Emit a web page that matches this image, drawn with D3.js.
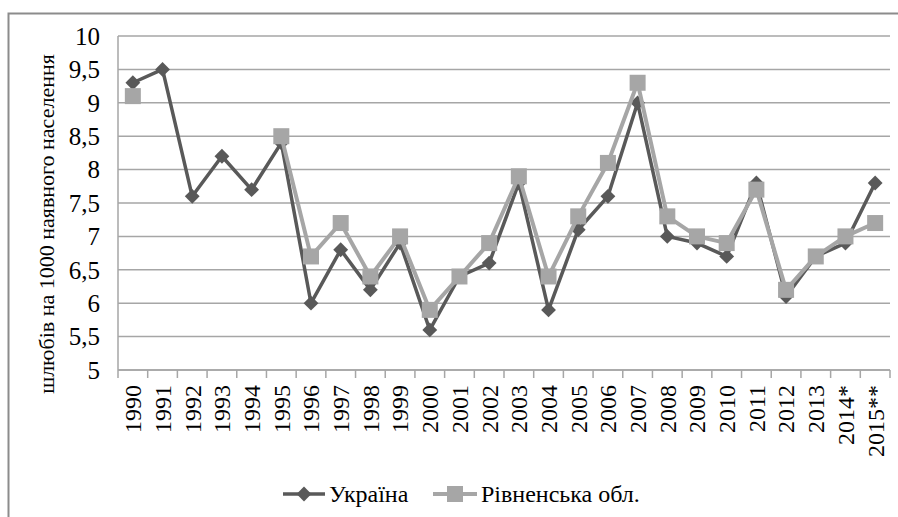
<!DOCTYPE html>
<html>
<head>
<meta charset="utf-8">
<script src="https://cdn.jsdelivr.net/npm/d3@7"></script>
<style>
  body { margin: 0; background: #fff; }
  .serif { font-family: "Liberation Serif", serif; }
</style>
</head>
<body>
<div class="chart"></div>
<script>
var years = ["1990","1991","1992","1993","1994","1995","1996","1997","1998","1999","2000",
  "2001","2002","2003","2004","2005","2006","2007","2008","2009","2010","2011","2012","2013","2014*","2015**"];
var ukraine = [9.3,9.5,7.6,8.2,7.7,8.4,6.0,6.8,6.2,6.9,5.6,6.4,6.6,7.8,5.9,7.1,7.6,9.0,7.0,6.9,6.7,7.8,6.1,6.7,6.9,7.8];
var rivne = [9.1,null,null,null,null,8.5,6.7,7.2,6.4,7.0,5.9,6.4,6.9,7.9,6.4,7.3,8.1,9.3,7.3,7.0,6.9,7.7,6.2,6.7,7.0,7.2];
var yTicks = [5,5.5,6,6.5,7,7.5,8,8.5,9,9.5,10];

var svgWidth = 898;
var svgHeight = 517;
var margin = { top: 36, right: 8, bottom: 147, left: 118 };
var width = svgWidth - margin.left - margin.right;
var height = svgHeight - margin.top - margin.bottom;

var svg = d3.select(".chart")
  .append("svg")
  .attr("width", svgWidth)
  .attr("height", svgHeight);

// outer chart border (top and left visible)
svg.append("path")
  .attr("d", "M8.5,517 L8.5,13.5 L898,13.5")
  .attr("fill", "none")
  .attr("stroke", "#8c8c8c")
  .attr("stroke-width", 2);

var chartGroup = svg.append("g")
  .attr("transform", `translate(${margin.left}, ${margin.top})`);

var xScale = d3.scaleBand()
  .domain(years)
  .range([0, width]);

var yScale = d3.scaleLinear()
  .domain([5, 10])
  .range([height, 0]);

// gridlines
chartGroup.selectAll(".grid")
  .data(yTicks)
  .enter()
  .append("line")
  .attr("x1", 0)
  .attr("x2", width)
  .attr("y1", d => yScale(d))
  .attr("y2", d => yScale(d))
  .attr("stroke", "#a6a6a6")
  .attr("stroke-width", 1.5);

// y axis labels
chartGroup.append("line")
  .attr("x1", 0).attr("x2", 0).attr("y1", 0).attr("y2", height)
  .attr("stroke", "#a6a6a6").attr("stroke-width", 1.5);
chartGroup.selectAll(".ylbl")
  .data(yTicks)
  .enter()
  .append("text")
  .attr("class", "serif")
  .attr("x", -18)
  .attr("y", d => yScale(d))
  .attr("dy", "0.35em")
  .attr("text-anchor", "end")
  .style("font-size", "25px")
  .text(d => String(d).replace(".", ","));

// x axis: ticks between categories
var xAxisG = chartGroup.append("g")
  .attr("transform", `translate(0, ${height})`);
xAxisG.append("line")
  .attr("x1", 0).attr("x2", width)
  .attr("stroke", "#a6a6a6").attr("stroke-width", 1.5);
xAxisG.selectAll(".tick")
  .data(years.concat(["end"]))
  .enter()
  .append("line")
  .attr("x1", (d, i) => i * xScale.step())
  .attr("x2", (d, i) => i * xScale.step())
  .attr("y1", 0).attr("y2", 8)
  .attr("stroke", "#a6a6a6").attr("stroke-width", 1.5);
xAxisG.selectAll(".lbl")
  .data(years)
  .enter()
  .append("text")
  .attr("class", "serif")
  .attr("transform", d => `translate(${xScale(d) + xScale.bandwidth() / 2}, 15) rotate(-90)`)
  .attr("text-anchor", "end")
  .attr("dy", "0.35em")
  .style("font-size", "24px")
  .text(d => d);

// y axis title
svg.append("text")
  .attr("class", "serif")
  .attr("transform", "translate(46, 224) rotate(-90)")
  .attr("text-anchor", "middle")
  .attr("dy", "0.35em")
  .style("font-size", "22px")
  .text("шлюбів на 1000 наявного населення");

var cx = (d, i) => xScale(years[i]) + xScale.bandwidth() / 2;

var line = d3.line()
  .defined(d => d != null)
  .x(cx)
  .y(d => yScale(d));

// Ukraine
chartGroup.append("path")
  .datum(ukraine)
  .attr("d", line)
  .attr("fill", "none")
  .attr("stroke", "#595959")
  .attr("stroke-width", 3.5)
  .attr("stroke-linejoin", "round");
chartGroup.selectAll(".ua")
  .data(ukraine)
  .enter()
  .append("path")
  .attr("d", d3.symbol().type(d3.symbolSquare).size(110))
  .attr("transform", (d, i) => `translate(${cx(d, i)}, ${yScale(d)}) rotate(45)`)
  .attr("fill", "#595959");

// Rivne
chartGroup.append("path")
  .datum(rivne)
  .attr("d", line)
  .attr("fill", "none")
  .attr("stroke", "#a6a6a6")
  .attr("stroke-width", 4)
  .attr("stroke-linejoin", "round");
chartGroup.selectAll(".rv")
  .data(rivne.map((v, i) => ({ v: v, i: i })).filter(d => d.v != null))
  .enter()
  .append("rect")
  .attr("x", d => cx(d.v, d.i) - 8)
  .attr("y", d => yScale(d.v) - 8)
  .attr("width", 16)
  .attr("height", 16)
  .attr("fill", "#a6a6a6");

// legend
var legend = svg.append("g").attr("transform", "translate(0, 494)");
legend.append("line").attr("x1", 283).attr("x2", 325).attr("stroke", "#595959").attr("stroke-width", 3.5);
legend.append("path").attr("d", d3.symbol().type(d3.symbolSquare).size(110))
  .attr("transform", "translate(304,0) rotate(45)").attr("fill", "#595959");
legend.append("text").attr("class", "serif").attr("x", 329).attr("dy", "0.35em").style("font-size", "24px").text("Україна");
legend.append("line").attr("x1", 433).attr("x2", 477).attr("stroke", "#a6a6a6").attr("stroke-width", 4);
legend.append("rect").attr("x", 447).attr("y", -8).attr("width", 16).attr("height", 16).attr("fill", "#a6a6a6");
legend.append("text").attr("class", "serif").attr("x", 481).attr("dy", "0.35em").style("font-size", "24px").text("Рівненська обл.");
</script>
</body>
</html>
